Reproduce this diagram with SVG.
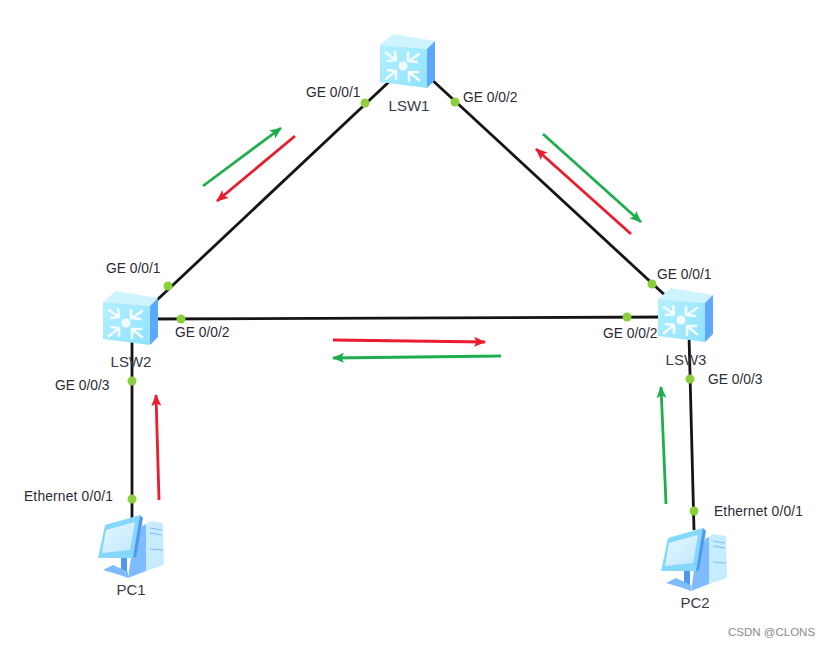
<svg xmlns="http://www.w3.org/2000/svg" width="831" height="645" viewBox="0 0 831 645">
<style>
text{font-family:"Liberation Sans",Arial,sans-serif;fill:#2b2b35}
.p{font-size:13.8px}
.n{font-size:15px;text-anchor:middle;fill:#3a3a48}
.l{stroke:#141414;stroke-width:2.8;fill:none}
.d{fill:#8ccf3c}
.g{stroke:#1fad4f;stroke-width:2.8;fill:none;marker-end:url(#ag)}
.r{stroke:#ea1c2d;stroke-width:2.8;fill:none;marker-end:url(#ar)}
.w{fill:none;stroke:#f4fcff;stroke-width:2.6;stroke-linecap:round;stroke-linejoin:round}
</style>
<defs>
<filter id="s" x="-5%" y="-5%" width="110%" height="110%"><feGaussianBlur stdDeviation="0.5"/></filter>
<marker id="ag" markerUnits="userSpaceOnUse" markerWidth="13" markerHeight="12" refX="11" refY="5" orient="auto"><path d="M0 0L12 5L0 10L2.5 5Z" fill="#1fad4f"/></marker>
<marker id="ar" markerUnits="userSpaceOnUse" markerWidth="13" markerHeight="12" refX="11" refY="5" orient="auto"><path d="M0 0L12 5L0 10L2.5 5Z" fill="#ea1c2d"/></marker>
<linearGradient id="f" x1="0" y1="0" x2="1" y2="1"><stop offset="0" stop-color="#b4f0ff"/><stop offset="1" stop-color="#8fe2fd"/></linearGradient>
<linearGradient id="m" x1="0" y1="0" x2="1" y2="1"><stop offset="0" stop-color="#e4f7ff"/><stop offset="1" stop-color="#c2e8ff"/></linearGradient>
<g id="sw" filter="url(#s)">
<path d="M0 11L13 0L55 7L47 15Z" fill="#cdf4ff"/>
<path d="M47 15L55 7V46L47 54Z" fill="#5ba8fb"/>
<path d="M0 11L47 15V54L0 48Z" fill="url(#f)"/>
<circle cx="23" cy="32" r="4.5" fill="#f4fcff"/>
<path class="w" d="M6 19L16 26M8 27L16 26L15 18M39 20L29 27M28 19V27L37 28M6 45L16 37M8 36L16 37L16 45M39 46L29 38M29 47V38L38 38"/>
</g>
<g id="pc" filter="url(#s)">
<path d="M142 526L146 524V571L128 578L131 558Z" fill="#7ebcff"/>
<path d="M146 524L150 521L163 523L164 565L146 571Z" fill="#c8ecff"/>
<path d="M150 528L162 530M150 533L162 535M150 549L163 550" stroke="#7ebcff" stroke-width="1.2"/>
<path d="M121 558H127V572H121Z" fill="#4f97ef"/>
<path d="M103 570L113 565L128 572V578L120 575Z" fill="#7ebcff"/>
<path d="M105 525L140 515L136 553L133 558L98 558Z" fill="#85d8fc"/>
<path d="M106 530L135 522L130 550L102 553Z" fill="url(#m)"/>
<path d="M140 515L143 518L136 557L133 558Z" fill="#4f97ef"/>
</g>
</defs>
<rect width="831" height="645" fill="#fff"/>
<g id="connectors">
<path class="l" d="M392 79L157 300"/>
<path class="l" d="M430 78L668 298"/>
<path class="l" d="M150 319L672 317"/>
<path class="l" d="M132 340V520"/>
<path class="l" d="M689 335L694 530"/>
<circle class="d" cx="365" cy="103" r="4.5"/>
<circle class="d" cx="455" cy="102" r="4.5"/>
<circle class="d" cx="168" cy="286" r="4.5"/>
<circle class="d" cx="652" cy="284" r="4.5"/>
<circle class="d" cx="181" cy="319" r="4.5"/>
<circle class="d" cx="627" cy="317" r="4.5"/>
<circle class="d" cx="132" cy="381" r="4.5"/>
<circle class="d" cx="690" cy="379" r="4.5"/>
<circle class="d" cx="132" cy="499" r="4.5"/>
<circle class="d" cx="694" cy="511" r="4.5"/>
<path class="g" d="M203 186L281 128"/>
<path class="r" d="M295 136L217 201"/>
<path class="g" d="M543 134L641 222"/>
<path class="r" d="M631 234L536 149"/>
<path class="r" d="M333 340L485 342"/>
<path class="g" d="M501 356L333 358"/>
<path class="r" d="M159 500L156 395"/>
<path class="g" d="M666 504L661 387"/>
</g>
<g id="LSW1"><use href="#sw" x="380" y="34"/><text class="n" x="409" y="111">LSW1</text></g>
<g id="LSW2"><use href="#sw" x="103" y="291"/><text class="n" x="131" y="367">LSW2</text></g>
<g id="LSW3"><use href="#sw" x="658" y="288"/><text class="n" x="686" y="365">LSW3</text></g>
<g id="PC1"><use href="#pc"/><text class="n" x="131" y="595">PC1</text></g>
<g id="PC2"><use href="#pc" x="563" y="13"/><text class="n" x="695" y="608">PC2</text></g>
<g id="labels">
<text class="p" x="306" y="97">GE 0/0/1</text>
<text class="p" x="463" y="102">GE 0/0/2</text>
<text class="p" x="106" y="273">GE 0/0/1</text>
<text class="p" x="175" y="337">GE 0/0/2</text>
<text class="p" x="55" y="390">GE 0/0/3</text>
<text class="p" x="657" y="279">GE 0/0/1</text>
<text class="p" x="603" y="338">GE 0/0/2</text>
<text class="p" x="708" y="384">GE 0/0/3</text>
<text class="p" x="24" y="501" textLength="89">Ethernet 0/0/1</text>
<text class="p" x="714" y="516" textLength="89">Ethernet 0/0/1</text>
<text x="728" y="636" style="font-size:11.5px;fill:#8a8a8a">CSDN @CLONS</text>
</g>
</svg>
